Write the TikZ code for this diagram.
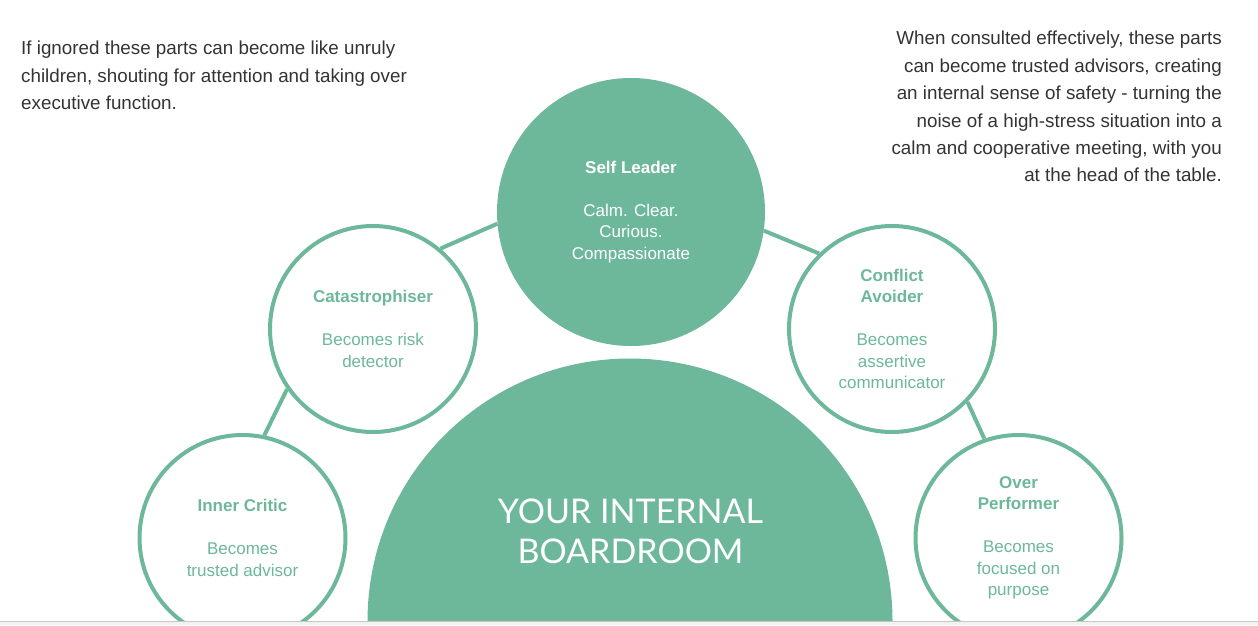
\documentclass[tikz,border=0pt]{standalone}
\usepackage{fontspec}
\setmainfont{Liberation Sans}
\newfontfamily\boardfont{Lato}
\definecolor{sage}{HTML}{6DB89B}
\definecolor{notetext}{HTML}{333333}

\begin{document}
\begin{tikzpicture}[x=1pt,y=-1pt,
    part/.style={circle, draw=sage, line width=4pt, fill=white, minimum size=206pt,
        inner sep=0pt, align=center, text=sage, font=\fontsize{17}{21.5}\selectfont},
    leader/.style={circle, fill=sage, minimum size=268pt, inner sep=0pt,
        align=center, text=white, font=\fontsize{17}{21.5}\selectfont},
    link/.style={draw=sage, line width=4pt},
    note/.style={inner sep=0pt, text=notetext, font=\fontsize{18.8}{27.4}\selectfont}]
    \useasboundingbox (0,0) rectangle (1258,625);

    \begin{scope}
        \clip (0,0) rectangle (1258,621);
        % the boardroom table
        \fill[sage] (367.5,621) arc[start angle=180, end angle=360, radius=262.5] -- cycle;
        \node[text=white, align=center, font=\boardfont\fontsize{34}{40}\selectfont] (board) at (630.5,531) {YOUR INTERNAL\\BOARDROOM};

        \node[leader] (self) at (631,212) {\textbf{Self Leader}\\[21.5pt]Calm. Clear.\\Curious.\\Compassionate};
        \node[part] (cat) at (373,329) {\textbf{Catastrophiser}\\[21.5pt]Becomes risk\\detector};
        \node[part] (conf) at (892,329) {\textbf{Conflict}\\\textbf{Avoider}\\[21.5pt]Becomes\\assertive\\communicator};
        \node[part] (critic) at (242.5,538) {\textbf{Inner Critic}\\[21.5pt]Becomes\\trusted advisor};
        \node[part] (over) at (1018.5,538) {\textbf{Over}\\\textbf{Performer}\\[21.5pt]Becomes\\focused on\\purpose};

        \draw[link] (critic.78) -- (cat.215);
        \draw[link] (cat.50) -- (self.185);
        \draw[link] (self.352) -- (conf.134);
        \draw[link] (conf.316) -- (over.109);
    \end{scope}

    \fill[black!5] (0,621) rectangle (1258,625);
    \draw[black!22, line width=1pt] (0,621.5) -- (1258,621.5);

    \node[note, anchor=north west, align=left] (ignored) at (21,41) {If ignored these parts can become like unruly\\children, shouting for attention and taking over\\executive function.};
    \node[note, anchor=north east, align=right] (consulted) at (1222,31) {When consulted effectively, these parts\\can become trusted advisors, creating\\an internal sense of safety - turning the\\noise of a high-stress situation into a\\calm and cooperative meeting, with you\\at the head of the table.};
\end{tikzpicture}
\end{document}
